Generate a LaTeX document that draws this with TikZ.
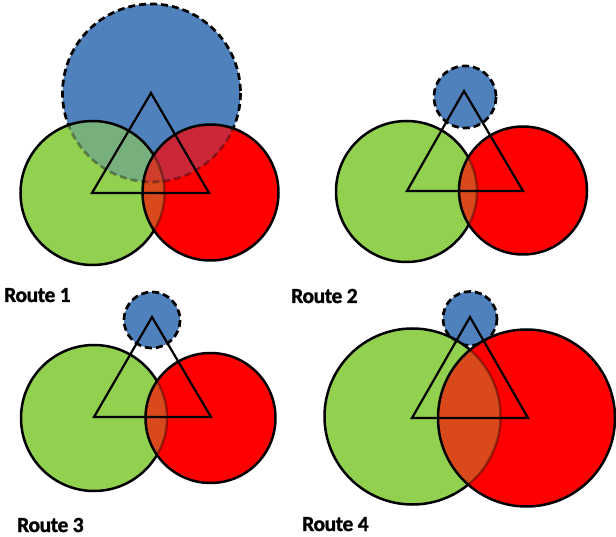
\documentclass[tikz,border=0pt]{standalone}
\usepackage{fontspec}
\setmainfont{Carlito}
\newfontfamily\routefont[FakeBold=1.2,LetterSpace=-2]{Carlito Bold}
\definecolor{cG}{RGB}{146,208,80}
\definecolor{cR}{RGB}{255,0,0}
\definecolor{cB}{RGB}{79,129,189}
\definecolor{cBG}{RGB}{119,176,124}
\definecolor{cBR}{RGB}{202,39,57}
\definecolor{cGR}{RGB}{217,73,28}
\definecolor{cBGR}{RGB}{207,62,43}
\tikzset{
  dashline/.style={draw=black,line width=2.7pt,dash pattern=on 7pt off 4pt},
  solidline/.style={draw=black,line width=2.5pt},
  triline/.style={draw=black,line width=2.2pt,line join=miter},
  routelabel/.style={anchor=base west,inner sep=0pt,font=\fontsize{21.5}{24}\routefont},
}
\newcommand\venpanel{%
 \fill[cB] (B) circle[radius=\rB];
 \draw[dashline] (B) circle[radius=\rB];
 \fill[cG] (G) circle[radius=\rG];
 \begin{scope}\clip (G) circle[radius=\rG];
   \fill[cBG] (B) circle[radius=\rB];
   \draw[dashline,draw opacity=0.35] (B) circle[radius=\rB];
 \end{scope}
 \draw[solidline] (G) circle[radius=\rG];
 \fill[cR] (R) circle[radius=\rR];
 \begin{scope}\clip (R) circle[radius=\rR];
   \fill[cBR] (B) circle[radius=\rB];
   \fill[cGR] (G) circle[radius=\rG];
   \begin{scope}\clip (B) circle[radius=\rB];
     \fill[cBGR] (G) circle[radius=\rG];
   \end{scope}
   \draw[solidline,draw opacity=0.35] (G) circle[radius=\rG];
   \draw[dashline,draw opacity=0.35] (B) circle[radius=\rB];
 \end{scope}
 \draw[solidline] (R) circle[radius=\rR];
 \draw[triline] (T1) -- (T2) -- (T3) -- cycle;
}
\begin{document}
\begin{tikzpicture}[x=1pt,y=-1pt]
\useasboundingbox[fill=white] (0,0) rectangle (616,537);
% Panel 1
\begin{scope}
 \coordinate (B) at (151.5,93); \def\rB{89}
 \coordinate (G) at (92.5,193); \def\rG{72}
 \coordinate (R) at (210.5,192.5); \def\rR{68}
 \coordinate (T1) at (151,93); \coordinate (T2) at (92,193); \coordinate (T3) at (209,193);
 \venpanel
\end{scope}
% Panel 2
\begin{scope}
 \coordinate (B) at (465,97); \def\rB{31}
 \coordinate (G) at (406.5,191.5); \def\rG{70.5}
 \coordinate (R) at (523,190.5); \def\rR{64}
 \coordinate (T1) at (464,91); \coordinate (T2) at (407,191); \coordinate (T3) at (523,191);
 \venpanel
\end{scope}
% Panel 3
\begin{scope}
 \coordinate (B) at (152,320); \def\rB{28}
 \coordinate (G) at (94,418); \def\rG{73}
 \coordinate (R) at (210.5,418); \def\rR{65}
 \coordinate (T1) at (152,317); \coordinate (T2) at (94,417); \coordinate (T3) at (211,417);
 \venpanel
\end{scope}
% Panel 4
\begin{scope}
 \coordinate (B) at (470,318.5); \def\rB{27}
 \coordinate (G) at (412.5,416.5); \def\rG{88}
 \coordinate (R) at (526.5,418); \def\rR{88.5}
 \coordinate (T1) at (470,317); \coordinate (T2) at (412,418); \coordinate (T3) at (528,418);
 \venpanel
\end{scope}
\node[routelabel] (r1) at (4,302) {Route 1};
\node[routelabel] (r2) at (291,303) {Route 2};
\node[routelabel] (r3) at (17,532) {Route 3};
\node[routelabel] (r4) at (302,531) {Route 4};
\end{tikzpicture}
\end{document}
